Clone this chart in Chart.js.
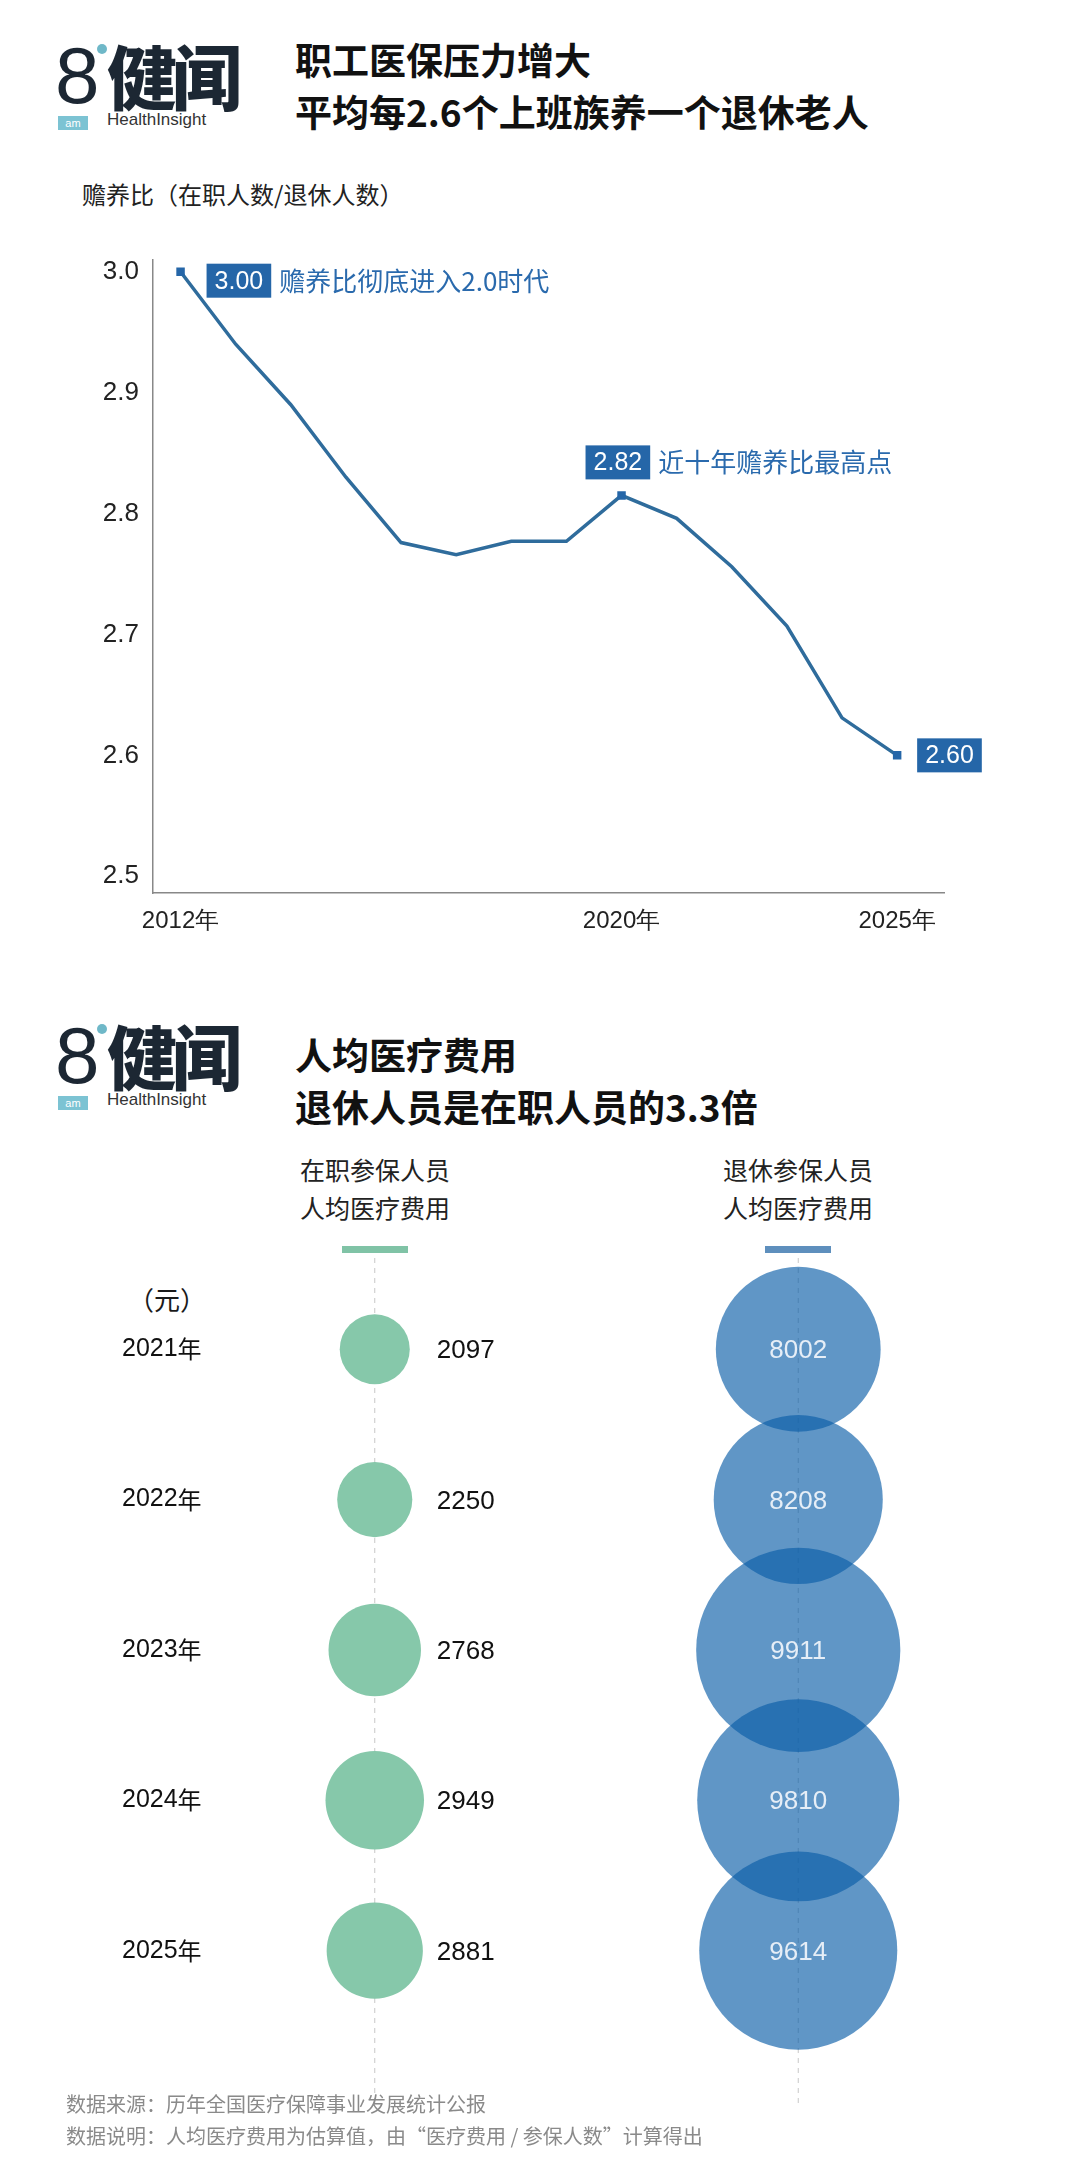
<!DOCTYPE html>
<html><head><meta charset="utf-8">
<script src="https://cdn.jsdelivr.net/npm/chart.js@4"></script>
<style>
body{margin:0;width:1080px;height:2183px;background:#fff;position:relative;font-family:"Noto Sans CJK SC","Noto Sans",sans-serif;color:#1a1a1a;overflow:hidden}
.abs{position:absolute}
.logo{position:absolute;width:200px;height:95px}
.logo .eight{position:absolute;left:0;top:-8px;font:400 80px "Liberation Sans",sans-serif;color:#1c2733}
.logo .dot{position:absolute;left:42px;top:6px;width:10px;height:10px;border-radius:50%;background:#6fb8c8}
.logo .jw{position:absolute;left:52px;top:-14px;font:900 70px "Noto Sans CJK SC";color:#1c2733;letter-spacing:-5px}
.logo .am{position:absolute;left:3px;top:78px;width:30px;height:14px;background:#7cc3d3;color:#fff;font:11px sans-serif;text-align:center;line-height:14px}
.logo .hi{position:absolute;left:52px;top:72px;font:17px "Liberation Sans",sans-serif;color:#333}
.title{position:absolute;left:295px;font:700 37px "Noto Sans CJK SC";line-height:52px;color:#111}
.hdr{position:absolute;font:400 25px "Noto Sans CJK SC";line-height:38px;text-align:center;width:200px;color:#222}
</style></head><body>
<div class="logo" style="left:55px;top:38px"><div class="eight">8</div><div class="dot"></div><div class="jw">健闻</div><div class="am">am</div><div class="hi">HealthInsight</div></div>
<div class="title" style="top:33px">职工医保压力增大<br>平均每2.6个上班族养一个退休老人</div>
<div class="abs" style="left:82px;top:176px;font:24px 'Noto Sans CJK SC';color:#222">赡养比（在职人数/退休人数）</div>
<div class="abs" style="left:0;top:230px;width:1080px;height:720px"><canvas id="line"></canvas></div>

<div class="logo" style="left:55px;top:1018px"><div class="eight">8</div><div class="dot"></div><div class="jw">健闻</div><div class="am">am</div><div class="hi">HealthInsight</div></div>
<div class="title" style="top:1028px">人均医疗费用<br>退休人员是在职人员的3.3倍</div>
<div class="hdr" style="left:275px;top:1150px">在职参保人员<br>人均医疗费用</div>
<div class="hdr" style="left:698px;top:1150px">退休参保人员<br>人均医疗费用</div>
<div class="abs" style="left:342px;top:1246px;width:66px;height:7px;background:#80c3a6"></div>
<div class="abs" style="left:765px;top:1246px;width:66px;height:7px;background:#5e8fbd"></div>
<div class="abs" style="left:128px;top:1280px;font:26px 'Noto Sans CJK SC'">（元）</div>
<div class="abs" style="left:0;top:1250px;width:1080px;height:860px"><canvas id="bub"></canvas></div>
<div class="abs" style="left:66px;top:2088px;font:20px 'Noto Sans CJK SC';color:#8a8a8a;line-height:32px">数据来源：历年全国医疗保障事业发展统计公报<br>数据说明：人均医疗费用为估算值，由“医疗费用 / 参保人数”计算得出</div>

<script>
const years=[2012,2013,2014,2015,2016,2017,2018,2019,2020,2021,2022,2023,2024,2025];
const ratio=[3.00,2.94,2.89,2.83,2.776,2.766,2.777,2.777,2.815,2.796,2.756,2.707,2.631,2.60];
const xTickYears=[2012,2020,2025];
const yTicks=[2.5,2.6,2.7,2.8,2.9,3.0];
const notes=[{year:2012,box:'3.00',text:'赡养比彻底进入2.0时代'},{year:2020,box:'2.82',text:'近十年赡养比最高点'},{year:2025,box:'2.60',text:''}];

const costYears=['2021年','2022年','2023年','2024年','2025年'];
const working=[2097,2250,2768,2949,2881];
const retired=[8002,8208,9911,9810,9614];
const cols=['在职','退休'];

Chart.defaults.animation=false;
const noteIdx=notes.map(n=>years.indexOf(n.year));
const annot={id:'annot',afterDatasetsDraw(c){
  const ctx=c.ctx,xs=c.scales.x,ys=c.scales.y;
  notes.forEach(n=>{
    const i=years.indexOf(n.year);
    const px=xs.getPixelForValue(n.year),py=ys.getPixelForValue(ratio[i]);
    let bx,by;
    if(n.year===2012){bx=px+26;by=py-8;}else if(n.year===2020){bx=px-36;by=py-50;}else{bx=px+20;by=py-17;}
    ctx.font='25px "Liberation Sans Narrow","Liberation Sans",sans-serif';
    const w=ctx.measureText(n.box).width+16;
    ctx.fillStyle='#2566a8';ctx.fillRect(bx,by,w,34);
    ctx.fillStyle='#fff';ctx.textBaseline='middle';ctx.textAlign='left';
    ctx.fillText(n.box,bx+8,by+18);
    if(n.text){ctx.fillStyle='#2a6aad';ctx.font='26px "Noto Sans CJK SC"';ctx.fillText(n.text,bx+w+8,by+17);}
  });
}};
new Chart(document.getElementById('line'),{type:'line',
 data:{datasets:[{data:years.map((y,i)=>({x:y,y:ratio[i]})),borderColor:'#2f6c9c',borderWidth:3.5,tension:0,
   pointStyle:'rect',pointRadius:years.map((y,i)=>noteIdx.includes(i)?6:0),pointBackgroundColor:'#2566a8',pointBorderWidth:0}]},
 options:{responsive:true,maintainAspectRatio:false,layout:{padding:{left:0,right:136,top:14,bottom:0}},
  plugins:{legend:{display:false},tooltip:{enabled:false}},
  scales:{
   x:{type:'linear',min:2011.5,max:2025.85,grid:{display:false,drawTicks:false},border:{color:'#888',width:1.5},
     afterBuildTicks:s=>{s.ticks=xTickYears.map(v=>({value:v}));},
     ticks:{callback:v=>v+'年',padding:14,color:'#222',font:{size:24,family:'"Liberation Sans Narrow","Liberation Sans",sans-serif'}}},
   y:{min:2.486,max:3.01,grid:{display:false,drawTicks:false},border:{color:'#888',width:1.5},
     afterFit:s=>{s.width=153;},
     afterBuildTicks:s=>{s.ticks=yTicks.map(v=>({value:v}));},
     ticks:{callback:v=>v.toFixed(1),padding:14,color:'#222',font:{size:26,family:'"Liberation Sans","DejaVu Sans",sans-serif'}}}
  }},plugins:[annot]});

const GF=0.0167,RF=0.0103;
const labels={id:'labels',beforeDatasetsDraw(c){
  const ctx=c.ctx;ctx.save();ctx.strokeStyle='#c8c8c8';ctx.setLineDash([5,5]);ctx.lineWidth=1;
  cols.forEach(k=>{const x=c.scales.x.getPixelForValue(k);ctx.beginPath();ctx.moveTo(x,8);ctx.lineTo(x,c.height-5);ctx.stroke();});
  ctx.restore();
 },afterDatasetsDraw(c){
  const ctx=c.ctx,xs=c.scales.x,ys=c.scales.y;
  ctx.textBaseline='middle';
  costYears.forEach((y,i)=>{
   const py=ys.getPixelForValue(i);
   const num=y.replace('年','');
   ctx.font='25px "Liberation Sans Narrow","Liberation Sans",sans-serif';
   ctx.fillStyle='#111';ctx.textAlign='left';
   ctx.fillText(num,122,py);
   const w=ctx.measureText(num).width;
   ctx.font='24px "Noto Sans CJK SC"';ctx.fillText('年',122+w,py);
   ctx.font='26px "Liberation Sans Narrow","Liberation Sans",sans-serif';
   ctx.fillText(String(working[i]),xs.getPixelForValue(cols[0])+62,py+2);
   ctx.fillStyle='#e6eef7';ctx.textAlign='center';
   ctx.fillText(String(retired[i]),xs.getPixelForValue(cols[1]),py+2);
  });
 }};
new Chart(document.getElementById('bub'),{type:'bubble',
 data:{labels:cols,datasets:[
  {data:working.map((v,i)=>({x:cols[0],y:i,r:v*GF})),backgroundColor:'#86c8aa',borderWidth:0,clip:false},
  {data:retired.map((v,i)=>({x:cols[1],y:i,r:v*RF})),backgroundColor:'rgba(10,93,167,0.65)',borderWidth:0,clip:false}]},
 options:{responsive:true,maintainAspectRatio:false,layout:{autoPadding:false,padding:{left:163,right:70,top:0,bottom:0}},
  plugins:{legend:{display:false},tooltip:{enabled:false}},
  scales:{x:{type:'category',offset:true,display:false},y:{min:-0.66,max:5.06,reverse:true,display:false}}},
 plugins:[labels]});
</script></body></html>
